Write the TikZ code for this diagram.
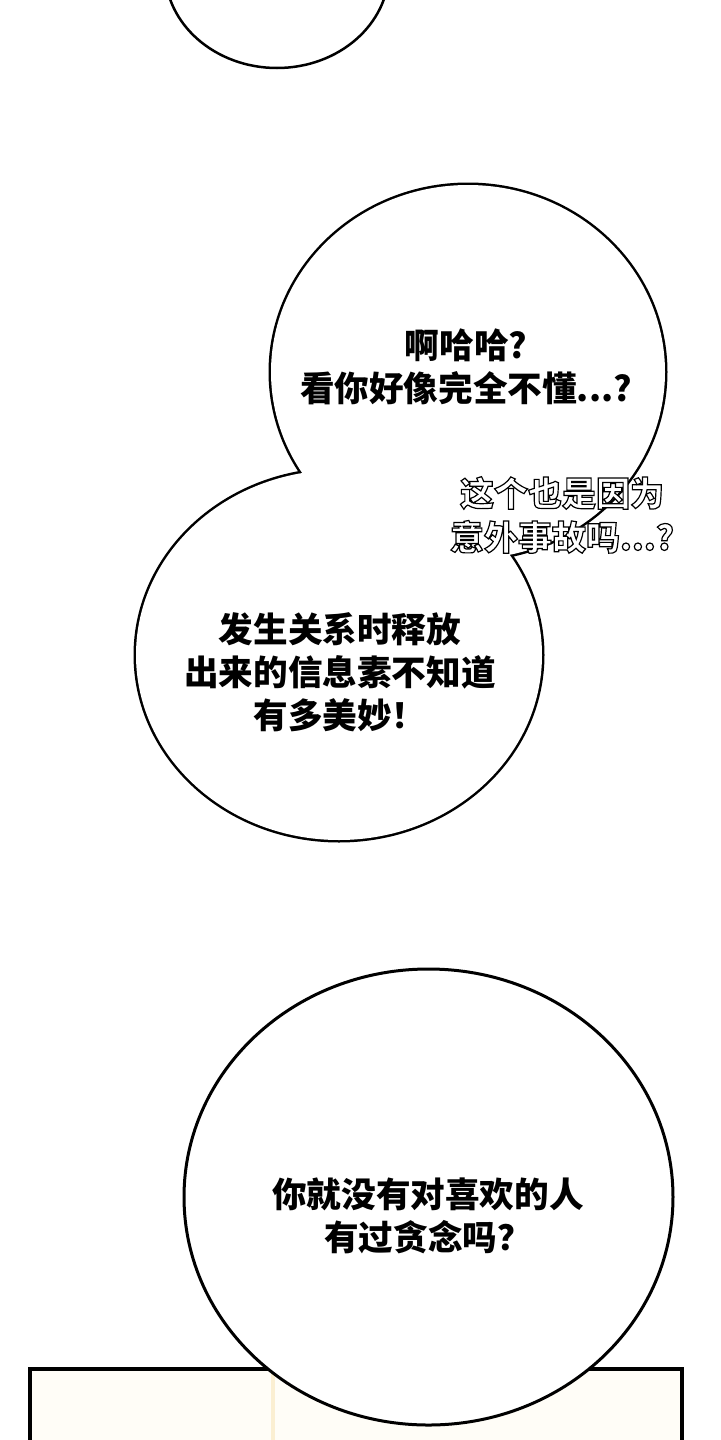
\documentclass[tikz,border=0pt]{standalone}
\usepackage{fontspec}
\setmainfont{Noto Sans CJK SC}
\newfontfamily\handfont{Noto Sans CJK SC}[FakeBold=3.5]
\definecolor{paper}{HTML}{FFFDF7}
\definecolor{seam}{HTML}{FBEFD2}
\tikzset{
  bubble/.style={line width=2.5pt},
  talk/.style={align=center, font=\bfseries\fontsize{17.3pt}{21.5pt}\selectfont},
  mutter/.style={align=center, font=\handfont\bfseries\fontsize{17pt}{22pt}\selectfont},
}

\begin{document}
\begin{tikzpicture}[x=0.5pt,y=-0.5pt]
                    \useasboundingbox (0,0) rectangle (720,1440);
                    \clip (0,0) rectangle (720,1440);
                    \fill[white] (0,0) rectangle (720,1440);
                    % bubble cut by the top edge
                    \draw[line width=1.25pt, fill=white] (277,-30) ellipse [x radius=112, y radius=98];
                    % double bubble: outline both, then fill both
                    \draw[bubble] (468,372) ellipse [x radius=197, y radius=187];
                    \draw[bubble] (339,655) ellipse [x radius=203, y radius=185];
                    \fill[white] (468,372) ellipse [x radius=197, y radius=187];
                    \fill[white] (339,655) ellipse [x radius=203, y radius=185];
                    \node[talk] (laugh) at (466,367) {啊哈哈?\\看你好像完全不懂...?};
                    \node[talk] (pheromone) at (340,672) {发生关系时释放\\出来的信息素不知道\\有多美妙！};
                    \node[mutter] (accident) at (562,515) {\special{pdf:bcolor [1] [0]}这个也是因为\\意外事故吗...?\special{pdf:ecolor}};
                    % panel frame and the last bubble
                    \draw[line width=1.75pt, fill=paper] (30,1369) rectangle (682,1520);
                    \draw[seam, line width=2pt] (273,1373) -- (273,1440);
                    \draw[line width=1.5pt, fill=white] (428.5,1197) ellipse [x radius=244.5, y radius=228];
                    \node[talk] (desire) at (428,1216) {你就没有对喜欢的人\\有过贪念吗？};
                \end{tikzpicture}
\end{document}
